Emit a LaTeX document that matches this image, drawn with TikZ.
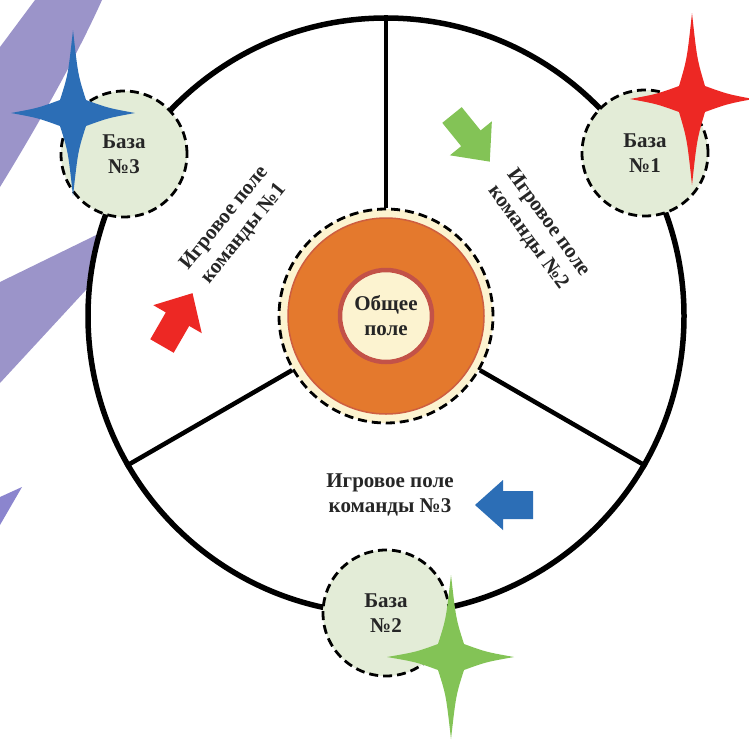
\documentclass[tikz,border=0pt]{standalone}
\usepackage{fontspec}
\setmainfont{Liberation Serif}

\definecolor{lilac}{RGB}{155,148,201}
\definecolor{baseface}{RGB}{227,236,215}
\definecolor{cream}{RGB}{252,243,208}
\definecolor{coreorange}{RGB}{228,121,45}
\definecolor{ringred}{RGB}{195,82,72}
\definecolor{teamred}{RGB}{237,40,36}
\definecolor{teamgreen}{RGB}{131,195,86}
\definecolor{teamblue}{RGB}{44,110,182}

\begin{document}
\begin{tikzpicture}[x=1pt, y=-1pt, font=\bfseries\fontsize{21}{25}\selectfont]

% base style
\tikzstyle{base} = [
    draw,
    circle,
    fill=baseface,
    line width=2.8pt,
    dash pattern=on 9pt off 5pt,
    minimum size=126pt,
    align=center,
    text=black!85
]

% playing field label style
\tikzstyle{lbl} = [
    align=center,
    text=black!85
]

% team arrow style
\tikzstyle{teamarrow} = [
    line width=0pt
]

\useasboundingbox (0,0) rectangle (749,739);

% Purple background strokes.
\fill[lilac] (0,47) -- (35,0) -- (102,0) .. controls (75,60) and (35,130) .. (0,187) -- cycle;
\fill[lilac] (0,282) -- (170,199) -- (0,383) -- cycle;
\fill[lilac!90!blue] (0,497) -- (22,487) -- (0,525) -- cycle;

% Place the nodes.
\node[circle, draw, fill=white, line width=5.5pt, minimum size=596pt] (field) at (386,316) {};

\node[circle, draw, fill=cream, line width=2.8pt, dash pattern=on 9pt off 5pt,
      minimum size=214pt] (common) at (386,316) {};
\node[circle, fill=coreorange, draw=ringred!70!coreorange, line width=1.5pt,
      minimum size=196pt] (ring) at (common) {};
\node[circle, fill=cream, draw=ringred, line width=4.5pt, minimum size=92pt,
      lbl] (core) at (common) {Общее\\поле};

% Connect the nodes.
\draw[line width=4.5pt] (common.90) -- (field.90);
\draw[line width=4.5pt] (common.210) -- (field.210);
\draw[line width=4.5pt] (common.330) -- (field.330);

\node[base] (base1) at (645,153) {База\\№1};
\node[base] (base2) at (386,613) {База\\№2};
\node[base] (base3) at (124,154) {База\\№3};

% Stars on the bases.
\fill[teamblue, shift={(73,113)}] (0,-83) .. controls (5,-38) .. (13,-13)
    .. controls (35,-5) .. (62,0) .. controls (35,5) .. (13,13)
    .. controls (5,38) .. (0,83) .. controls (-5,38) .. (-13,13)
    .. controls (-35,5) .. (-62,0) .. controls (-35,-5) .. (-13,-13)
    .. controls (-5,-38) .. (0,-83) -- cycle;
\fill[teamred, shift={(692,99)}] (0,-86) .. controls (5,-40) .. (13,-13)
    .. controls (35,-5) .. (61,0) .. controls (35,5) .. (13,13)
    .. controls (5,40) .. (0,86) .. controls (-5,40) .. (-13,13)
    .. controls (-35,5) .. (-62,0) .. controls (-35,-5) .. (-13,-13)
    .. controls (-5,-40) .. (0,-86) -- cycle;
\fill[teamgreen, shift={(451,657)}] (0,-82) .. controls (5,-38) .. (13,-13)
    .. controls (35,-5) .. (63,0) .. controls (35,5) .. (13,13)
    .. controls (5,38) .. (0,82) .. controls (-5,38) .. (-13,13)
    .. controls (-35,5) .. (-64,0) .. controls (-35,-5) .. (-13,-13)
    .. controls (-5,-38) .. (0,-82) -- cycle;

% Team arrows.
\fill[teamred, teamarrow, shift={(162,346)}, rotate=60]
    (0,-13.5) -- (31,-13.5) -- (31,-28) -- (61,0) -- (31,28) -- (31,13.5) -- (0,13.5) -- cycle;
\fill[teamgreen, teamarrow, shift={(452,115)}, rotate=-51]
    (0,-12.5) -- (30,-12.5) -- (30,-27) -- (60,0) -- (30,27) -- (30,12.5) -- (0,12.5) -- cycle;
\fill[teamblue, teamarrow, shift={(533,505)}, rotate=180]
    (0,-14) -- (30,-14) -- (30,-25) -- (58,0) -- (30,25) -- (30,14) -- (0,14) -- cycle;

% Field labels.
\node[lbl, rotate=51] (team1) at (234,226) {Игровое поле\\команды №1};
\node[lbl, rotate=-54] (team2) at (538,230) {Игровое поле\\команды №2};
\node[lbl] (team3) at (390,495) {Игровое поле\\команды №3};

\end{tikzpicture}
\end{document}
